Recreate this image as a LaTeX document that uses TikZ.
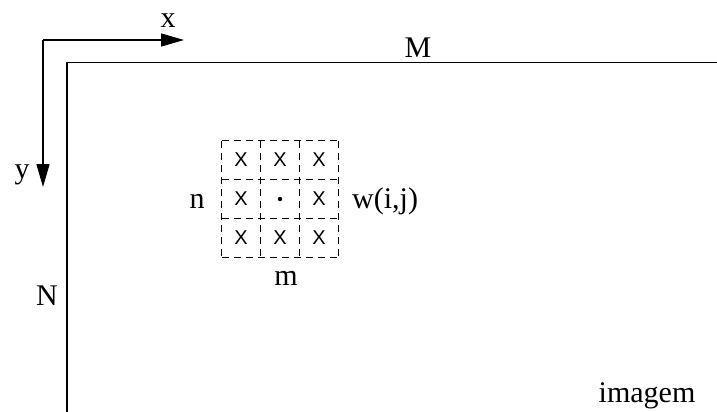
\documentclass[tikz,border=0pt]{standalone}
\usepackage{fontspec}
\setmainfont{Liberation Serif}
\newfontfamily\xsans{Liberation Sans}
\usetikzlibrary{arrows.meta}
\begin{document}
\begin{tikzpicture}[x=1pt,y=-1pt,
  lbl/.style={inner sep=0pt,font=\fontsize{30}{36}\selectfont},
  cellbox/.style={minimum size=39pt,inner sep=0pt},
  gridline/.style={line width=1.5pt,dash pattern=on 6.5pt off 5.5pt,dash phase=-1pt},
  xmark/.style={inner sep=0pt,font=\xsans\fontsize{20}{22}\selectfont},
  axis/.style={line width=1.5pt,-{Triangle[length=23pt,width=13pt]}},
  frame/.style={line width=1.5pt}]
\useasboundingbox (0,0) rectangle (717,412);
% axes
\coordinate (o) at (43,40);
\coordinate (xe) at (184,40);
\coordinate (ye) at (43,187);
\draw[axis] (o) -- (xe);
\draw[axis] (o) -- (ye);
\node[lbl,anchor=base] (xl) at (168,28) {x};
\node[lbl,anchor=base] (yl) at (22,178) {y};
% image frame
\coordinate (f1) at (67,412);
\coordinate (f2) at (67,62.5);
\coordinate (f3) at (717,62.5);
\draw[frame] (f1) -- (f2) -- (f3);
\node[lbl,anchor=base] (M) at (418,57) {M};
\node[lbl,anchor=base] (N) at (47,305) {N};
\node[lbl,anchor=base] (img) at (647,402) {imagem};
% window cells
\foreach \i/\cx in {0/241,1/280,2/319}{
  \foreach \j/\cy in {0/160,1/199,2/238}{
    \node[cellbox] (c\i\j) at (\cx,\cy) {};
  }
}
% dashed grid
\draw[gridline] (c00.north west) -- (c20.north east);
\draw[gridline] (c01.north west) -- (c21.north east);
\draw[gridline] (c02.north west) -- (c22.north east);
\draw[gridline] (c02.south west) -- (c22.south east);
\draw[gridline] (c00.north west) -- (c02.south west);
\draw[gridline] (c10.north west) -- (c12.south west);
\draw[gridline] (c20.north west) -- (c22.south west);
\draw[gridline] (c20.north east) -- (c22.south east);
\foreach \n in {c00,c10,c20,c01,c21,c02,c12,c22}{
  \node[xmark] at (\n) {X};
}
\fill (c11) circle (2.2pt);
\node[lbl,anchor=base] (nl) at (197,208) {n};
\node[lbl,anchor=base west] (wl) at (352,208) {w(i,j)};
\node[lbl,anchor=base] (ml) at (286,285) {m};
\end{tikzpicture}
\end{document}
